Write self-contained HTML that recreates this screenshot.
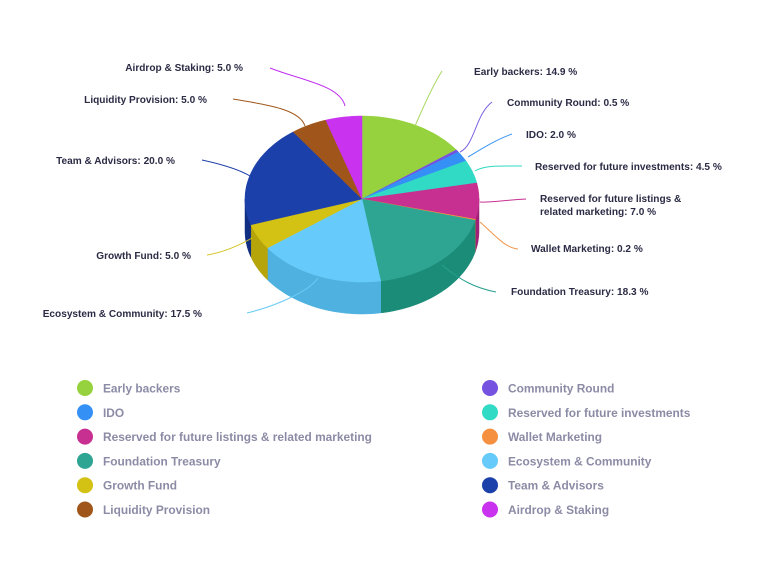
<!DOCTYPE html>
<html><head><meta charset="utf-8"><style>
body{margin:0;background:#fff;width:768px;height:578px;overflow:hidden}
svg{display:block}
.l{font-family:"Liberation Sans",sans-serif;font-weight:bold;font-size:10.1px;fill:#2b2b45}
.g{font-family:"Liberation Sans",sans-serif;font-weight:bold;font-size:11.9px;fill:#8b8ba6}
</style></head><body>
<svg id="s" width="768" height="578" xmlns="http://www.w3.org/2000/svg">
<g id="pie"></g>
<g fill="none" stroke-width="1">
<path d="M270,68 C300,80 340,85 345,106" stroke="#c030f0"/>
<path d="M233,99 C270,105 300,110 305,126" stroke="#a0561a"/>
<path d="M202,160 C225,165 240,170 250,176" stroke="#1d3fa8"/>
<path d="M207,255 C225,252 240,245 252,238" stroke="#d4c21a"/>
<path d="M247,313 C280,305 310,290 318,278" stroke="#6cccf5"/>
<path d="M442,71 C430,90 420,115 415,126" stroke="#a8d860"/>
<path d="M492,102 C475,115 475,145 460,152" stroke="#7a5ce0"/>
<path d="M512,134 C495,140 480,150 468,157" stroke="#3a95f5"/>
<path d="M522,166 C500,166 485,165 475,171" stroke="#30d8c0"/>
<path d="M526,199 C505,200 490,203 480,202" stroke="#c83090"/>
<path d="M518,249 C505,248 495,235 480,222" stroke="#f0974a"/>
<path d="M496,292 C475,288 460,280 442,265" stroke="#2aa090"/>
</g>
<text class="l" x="243" y="71" text-anchor="end">Airdrop &amp; Staking: 5.0 %</text>
<text class="l" x="207" y="103" text-anchor="end">Liquidity Provision: 5.0 %</text>
<text class="l" x="175" y="164" text-anchor="end">Team &amp; Advisors: 20.0 %</text>
<text class="l" x="191" y="259" text-anchor="end">Growth Fund: 5.0 %</text>
<text class="l" x="202" y="317" text-anchor="end">Ecosystem &amp; Community: 17.5 %</text>
<text class="l" x="474" y="75">Early backers: 14.9 %</text>
<text class="l" x="507" y="106">Community Round: 0.5 %</text>
<text class="l" x="526" y="138">IDO: 2.0 %</text>
<text class="l" x="535" y="170">Reserved for future investments: 4.5 %</text>
<text class="l" x="540" y="202">Reserved for future listings &amp;</text>
<text class="l" x="540" y="215">related marketing: 7.0 %</text>
<text class="l" x="531" y="252">Wallet Marketing: 0.2 %</text>
<text class="l" x="511" y="295">Foundation Treasury: 18.3 %</text>
<g id="leg"></g>
</svg>
<script>
var d=[[14.9,"#96d13e","#7ab02e","Early backers"],[0.5,"#7652e0","#5a3cc0","Community Round"],[2.0,"#3590f5","#2570d0","IDO"],[4.5,"#30dac4","#20b0a0","Reserved for future investments"],[7.0,"#c72f90","#a02078","Reserved for future listings & related marketing"],[0.2,"#f59040","#d07030","Wallet Marketing"],[18.3,"#2ea592","#1a8c78","Foundation Treasury"],[17.5,"#66cbfa","#4fb1e0","Ecosystem & Community"],[5.0,"#d3c114","#b5a50a","Growth Fund"],[20.0,"#1c40aa","#102e82","Team & Advisors"],[5.0,"#a0561a","#804010","Liquidity Provision"],[5.0,"#c932ef","#a020c8","Airdrop & Staking"]];
var cx=362,cy=199,rx=117,ry=83,dp=32,tot=99.9,ns="http://www.w3.org/2000/svg";
function P(a,o){return [cx+rx*Math.sin(a),cy-ry*Math.cos(a)+(o||0)];}
function arc(a1,a2,o){var s="",n=30;for(var i=0;i<=n;i++){var p=P(a1+(a2-a1)*i/n,o);s+=(i?"L":"")+p[0].toFixed(1)+","+p[1].toFixed(1);}return s;}
var g=document.getElementById("pie"),a=0,sl=[];
d.forEach(function(x){var b=a+x[0]/tot*2*Math.PI;sl.push([a,b,x]);a=b;});
function add(dd,f){var p=document.createElementNS(ns,"path");p.setAttribute("d",dd);p.setAttribute("fill",f);p.setAttribute("stroke",f);p.setAttribute("stroke-width","0.5");g.appendChild(p);}
sl.forEach(function(s){var a1=Math.max(s[0],Math.PI/2),a2=Math.min(s[1],3*Math.PI/2);if(a2>a1){var top=arc(a1,a2,0),bot=arc(a2,a1,dp);add("M"+top+"L"+bot+"Z",s[2][2]);}});
sl.forEach(function(s){add("M"+cx+","+cy+"L"+arc(s[0],s[1],0)+"Z",s[2][1]);});
var L=document.getElementById("leg");
d.forEach(function(x,i){var c=i%2,r=Math.floor(i/2),X=c?490:85,Y=388+r*24.3;
var ci=document.createElementNS(ns,"circle");ci.setAttribute("cx",X);ci.setAttribute("cy",Y);ci.setAttribute("r",8);ci.setAttribute("fill",x[1]);L.appendChild(ci);
var t=document.createElementNS(ns,"text");t.setAttribute("class","g");t.setAttribute("x",X+18);t.setAttribute("y",Y+4.5);t.textContent=x[3];L.appendChild(t);});
</script>
</body></html>
